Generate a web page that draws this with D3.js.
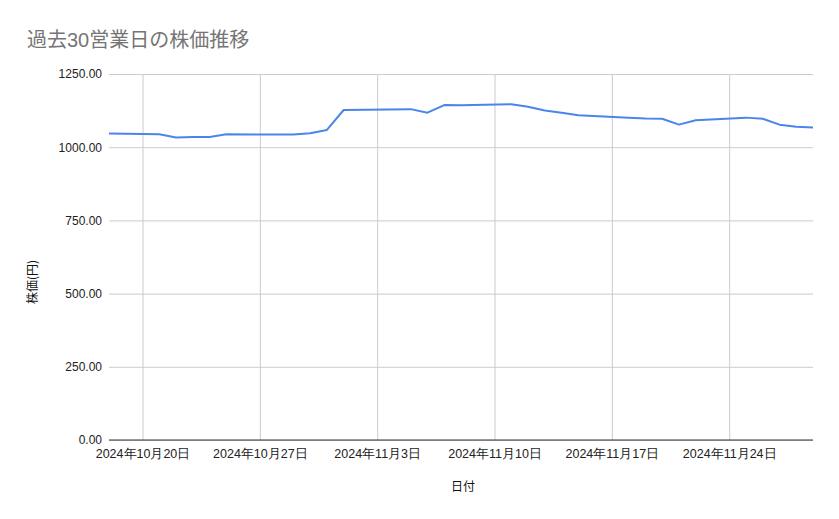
<!DOCTYPE html>
<html>
<head>
<meta charset="utf-8">
<script src="https://cdn.jsdelivr.net/npm/d3@7"></script>
<style>
  body { margin: 0; background: #fff; }
  svg { display: block; font-family: Arial, "Liberation Sans", "Noto Sans CJK JP", sans-serif; }
</style>
</head>
<body>
<div id="chart"></div>
<script>
// Chart size and plot margins
const width = 839;
const height = 519;
const margin = {left: 109, right: 26, top: 74, bottom: 79};

// Data: 30 business days (Nov 4 is a holiday)
const dates = [
  "2024-10-18", "2024-10-21", "2024-10-22", "2024-10-23", "2024-10-24", "2024-10-25",
  "2024-10-28", "2024-10-29", "2024-10-30", "2024-10-31", "2024-11-01",
  "2024-11-05", "2024-11-06", "2024-11-07", "2024-11-08",
  "2024-11-11", "2024-11-12", "2024-11-13", "2024-11-14", "2024-11-15",
  "2024-11-18", "2024-11-19", "2024-11-20", "2024-11-21", "2024-11-22",
  "2024-11-25", "2024-11-26", "2024-11-27", "2024-11-28", "2024-11-29"
];
const prices = [
  1047, 1044, 1033, 1035, 1035, 1044,
  1043, 1043, 1048, 1059, 1127,
  1130, 1118, 1144, 1143,
  1147, 1138, 1125, 1118, 1109,
  1101, 1098, 1097, 1077, 1092,
  1101, 1097, 1077, 1070, 1067
];
const xTicks = ["2024-10-20", "2024-10-27", "2024-11-03", "2024-11-10", "2024-11-17", "2024-11-24"];
const yTicks = [0, 250, 500, 750, 1000, 1250];

const parse = d3.timeParse("%Y-%m-%d");
const data = dates.map((d, i) => ({date: parse(d), price: prices[i]}));

const svg = d3.select("#chart")
  .append("svg")
  .attr("width", width)
  .attr("height", height);

// scales
const x = d3.scaleTime()
  .domain([parse("2024-10-18"), parse("2024-11-29")])
  .range([margin.left, width - margin.right]);

const y = d3.scaleLinear()
  .domain([0, 1250])
  .range([height - margin.bottom, margin.top]);

// horizontal gridlines + y labels
const yAxis = svg.append("g")
  .attr("transform", `translate(${margin.left},0)`)
  .call(d3.axisLeft(y).tickValues(yTicks).tickFormat(d3.format(".2f"))
    .tickSize(-(width - margin.left - margin.right)).tickPadding(7));
yAxis.select(".domain").remove();
yAxis.selectAll(".tick line").attr("stroke", "#cccccc");
yAxis.selectAll(".tick text").attr("font-size", 12).attr("fill", "#222");

// vertical gridlines + x labels
const xAxis = svg.append("g")
  .attr("transform", `translate(0,${y(0)})`)
  .call(d3.axisBottom(x).tickValues(xTicks.map(parse))
    .tickFormat(d3.timeFormat("%Y年%-m月%-d日"))
    .tickSize(-(y(0) - margin.top)).tickPadding(9));
xAxis.select(".domain").remove();
xAxis.selectAll(".tick line").attr("stroke", "#cccccc");
xAxis.selectAll(".tick text").attr("font-size", 12.5).attr("fill", "#222");

// baseline
svg.append("line")
  .attr("x1", margin.left).attr("x2", width - margin.right)
  .attr("y1", y(0)).attr("y2", y(0))
  .attr("stroke", "#333").attr("stroke-width", 1);

// line
const line = d3.line()
  .x(d => x(d.date))
  .y(d => y(d.price));

svg.append("path")
  .datum(data)
  .attr("fill", "none")
  .attr("stroke", "#4a86e8")
  .attr("stroke-width", 2)
  .attr("stroke-linejoin", "round")
  .attr("d", line);

// title
svg.append("text")
  .attr("x", 27).attr("y", 47)
  .attr("font-size", 20)
  .attr("fill", "#757575")
  .text("過去30営業日の株価推移");

// axis titles
svg.append("text")
  .attr("x", 463).attr("y", 491)
  .attr("text-anchor", "middle")
  .attr("font-size", 12).attr("fill", "#111")
  .style("font-family", "'Noto Sans CJK JP', sans-serif")
  .text("日付");

svg.append("text")
  .attr("transform", "translate(37,282) rotate(-90)")
  .attr("text-anchor", "middle")
  .attr("font-size", 12).attr("fill", "#111")
  .style("font-family", "'Noto Sans CJK JP', sans-serif")
  .text("株価(円)");
</script>
</body>
</html>
